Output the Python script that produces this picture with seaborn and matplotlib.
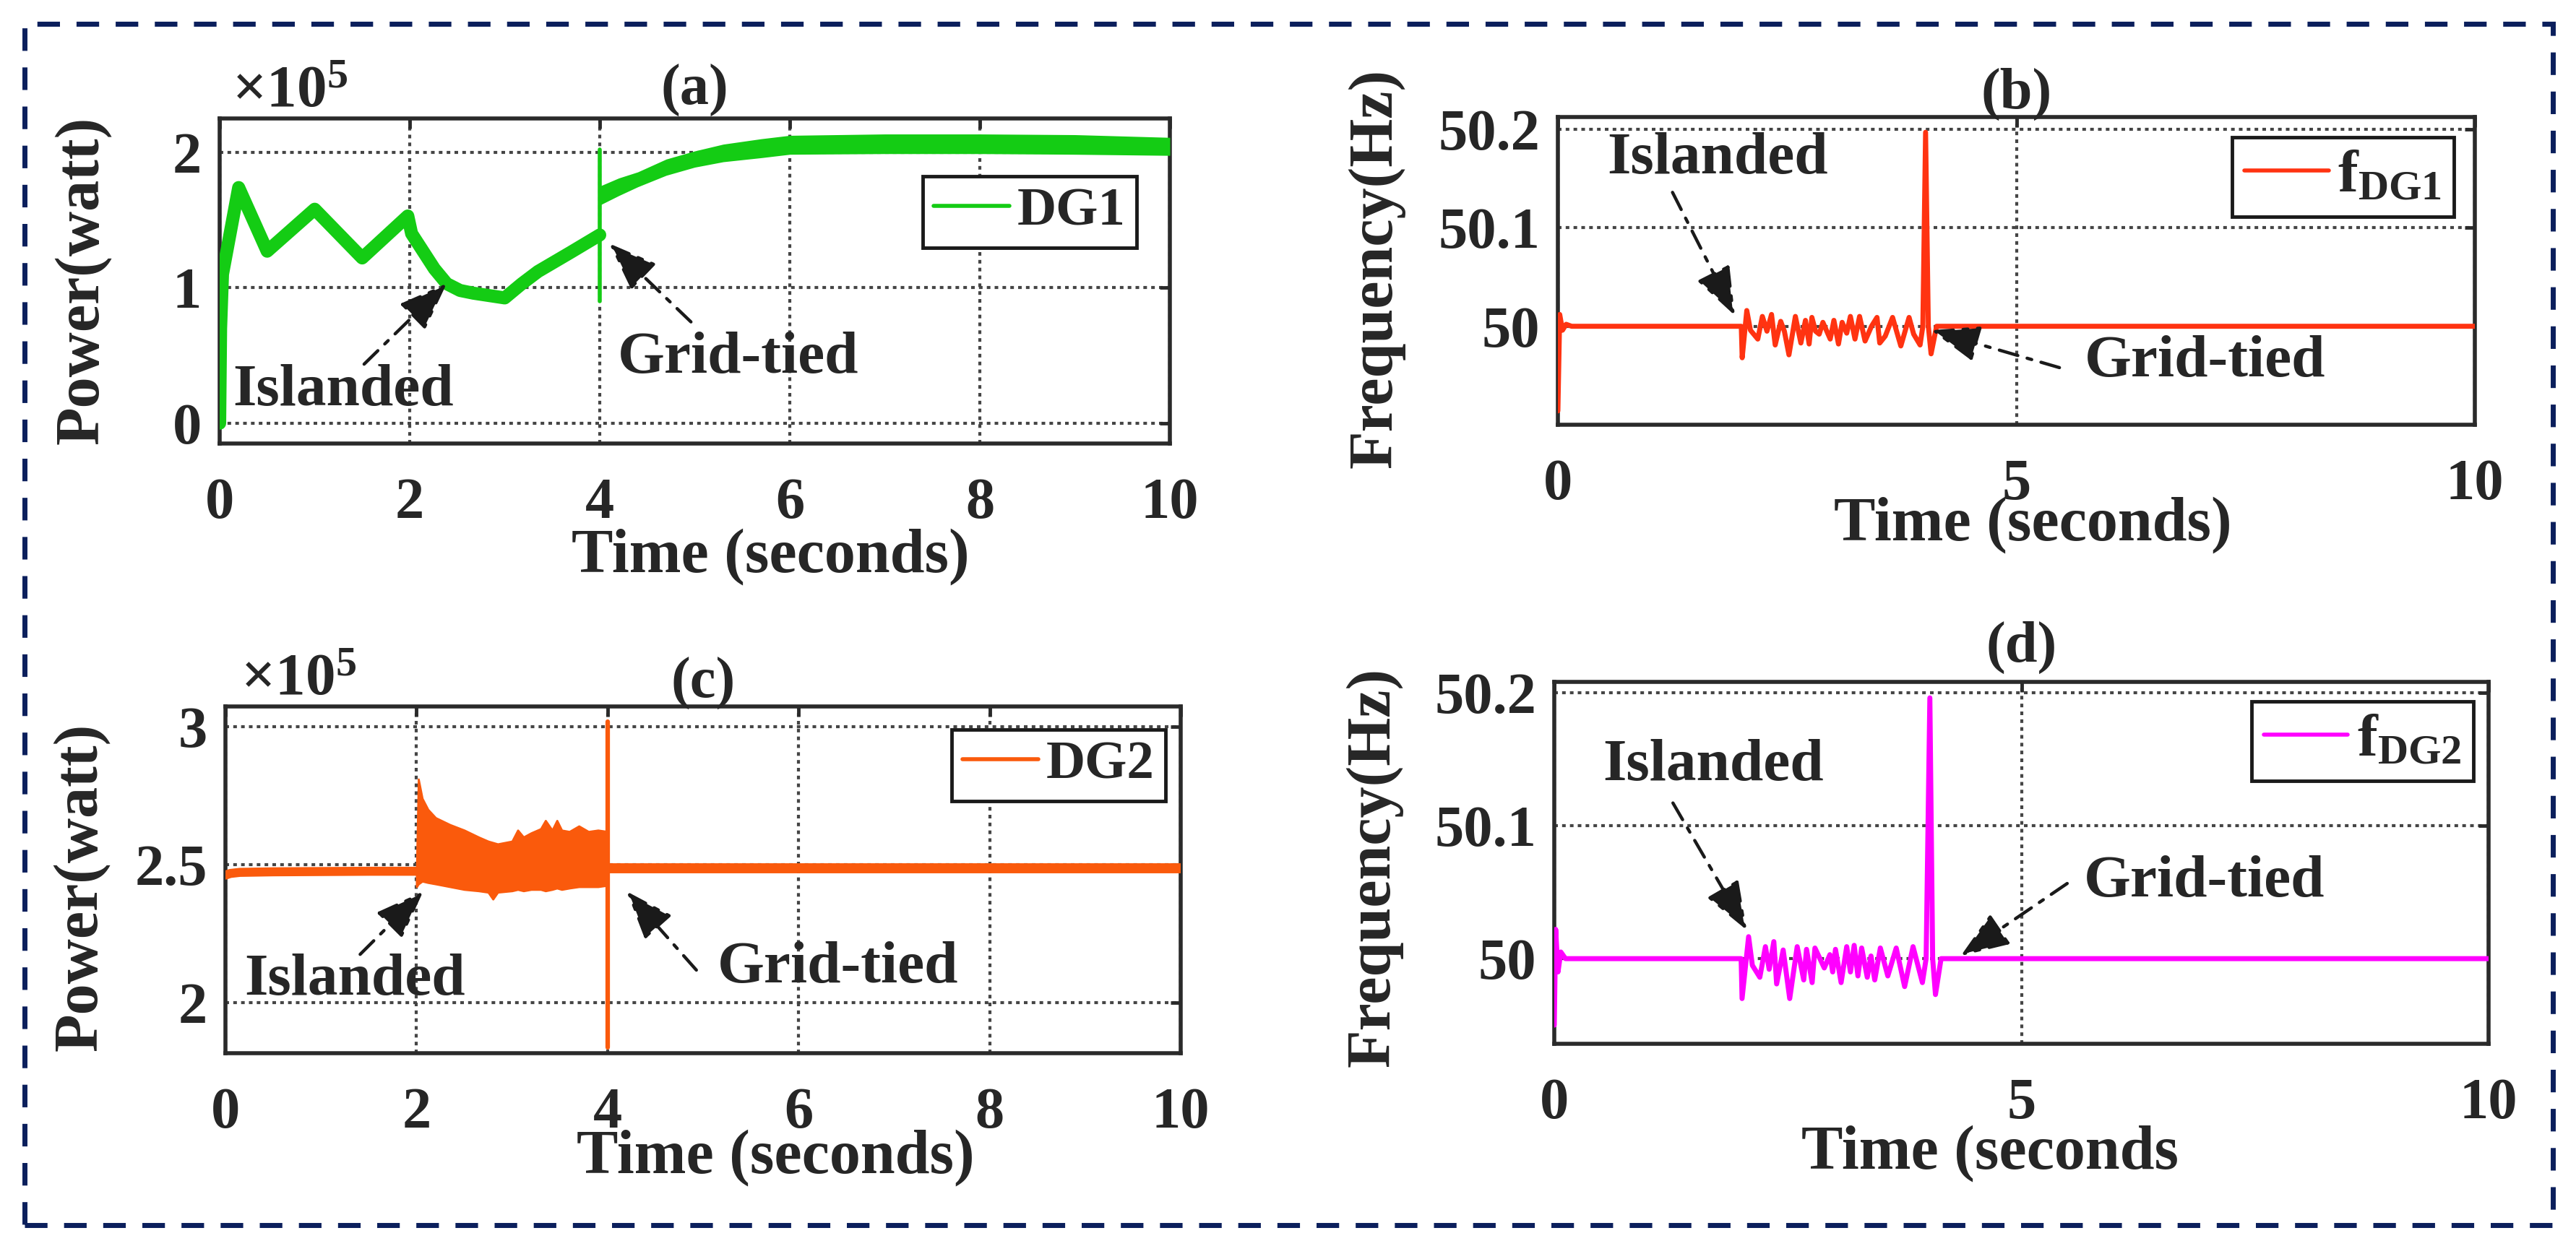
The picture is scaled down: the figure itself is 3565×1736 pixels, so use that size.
import matplotlib
matplotlib.use("Agg")
import matplotlib.pyplot as plt
from matplotlib.patches import Rectangle
import seaborn as sns

# ---- (a) DG1 power, units of 1e5 W ----
t_dg1 = [0.0, 0.01, 0.03, 0.2, 0.5, 1.0, 1.5, 1.98, 2.02, 2.26, 2.39, 2.53, 2.67, 3.0, 3.18, 3.35, 3.69, 4.0]
p_dg1 = [0.0, 0.7, 1.1, 1.74, 1.27, 1.58, 1.22, 1.53, 1.40, 1.14, 1.03, 0.98, 0.96, 0.925, 1.03, 1.12, 1.26, 1.39]
t_dg1_tied = [4.0, 4.2, 4.4, 4.7, 5.0, 5.3, 5.7, 6.0, 7.0, 8.0, 9.0, 10.0]
p_dg1_hi = [1.75, 1.81, 1.855, 1.95, 2.01, 2.06, 2.10, 2.125, 2.135, 2.135, 2.13, 2.11]
p_dg1_lo = [1.61, 1.68, 1.745, 1.83, 1.89, 1.93, 1.96, 1.985, 1.99, 1.99, 1.985, 1.977]
t_dg1_jump = [4.0, 4.0]
p_dg1_jump = [0.9, 2.02]

# ---- (b) DG1 frequency, Hz ----
t_fdg1 = [0.0, 0.02, 0.05, 0.09, 0.15, 2.0,
          2.01, 2.06, 2.10, 2.18, 2.23, 2.28, 2.33, 2.37, 2.43, 2.47, 2.52, 2.59, 2.65, 2.70,
          2.74, 2.77, 2.81, 2.85, 2.89, 2.97, 3.01, 3.06, 3.10, 3.15, 3.19, 3.24, 3.29, 3.35,
          3.42, 3.48, 3.51, 3.57, 3.65, 3.74, 3.83, 3.88, 3.95, 3.98, 4.01, 4.04, 4.07, 4.13, 10.0]
f_dg1 = [49.914, 50.012, 49.996, 50.002, 50.0, 50.0,
         49.968, 50.016, 49.996, 49.987, 50.010, 49.995, 50.012, 49.981, 50.005, 49.995, 49.971, 50.010, 49.983, 50.006,
         49.982, 50.009, 49.995, 49.992, 50.004, 49.987, 50.006, 49.982, 50.004, 49.993, 50.010, 49.987, 50.010, 49.985,
         50.0, 50.009, 49.983, 49.990, 50.009, 49.980, 50.009, 49.992, 49.981, 50.0, 50.197, 50.0, 49.972, 50.0, 50.0]

# ---- (c) DG2 power, units of 1e5 W ----
t_dg2_pre = [0.0, 0.05, 0.15, 0.5, 1.0, 1.5, 2.0]
p_dg2_pre = [2.462, 2.468, 2.472, 2.474, 2.475, 2.476, 2.476]
t_dg2_isl = [2.0, 2.02, 2.06, 2.12, 2.2, 2.35, 2.5, 2.65, 2.75, 2.8, 2.85, 3.0, 3.06, 3.12, 3.2,
             3.3, 3.35, 3.42, 3.47, 3.52, 3.6, 3.7, 3.8, 3.9, 4.0]
p_dg2_hi = [2.47, 2.81, 2.74, 2.70, 2.67, 2.645, 2.625, 2.60, 2.585, 2.58, 2.575, 2.585, 2.625, 2.60, 2.615,
            2.63, 2.66, 2.625, 2.66, 2.625, 2.62, 2.64, 2.62, 2.625, 2.62]
p_dg2_lo = [2.42, 2.43, 2.44, 2.435, 2.43, 2.42, 2.41, 2.405, 2.40, 2.375, 2.40, 2.405, 2.41, 2.405, 2.41,
            2.41, 2.405, 2.41, 2.415, 2.41, 2.415, 2.42, 2.42, 2.42, 2.425]
t_dg2_post = [4.0, 5.0, 6.0, 7.0, 8.0, 9.0, 10.0]
p_dg2_post = [2.487, 2.487, 2.487, 2.487, 2.487, 2.487, 2.487]
t_dg2_jump = [4.0, 4.0]
p_dg2_jump = [1.838, 3.017]

# ---- (d) DG2 frequency, Hz ----
t_fdg2 = [0.0, 0.015, 0.04, 0.07, 0.12, 2.0,
          2.01, 2.08, 2.12, 2.20, 2.26, 2.30, 2.35, 2.38, 2.45, 2.52, 2.60, 2.67, 2.70, 2.76,
          2.79, 2.89, 2.95, 2.98, 3.01, 3.07, 3.13, 3.17, 3.21, 3.25, 3.29, 3.35, 3.39, 3.43,
          3.49, 3.57, 3.66, 3.75, 3.84, 3.94, 3.98, 4.02, 4.05, 4.08, 4.14, 10.0]
f_dg2 = [49.95, 50.022, 49.99, 50.005, 50.0, 50.0,
         49.970, 50.0165, 49.995, 49.986, 50.009, 49.992, 50.0128, 49.981, 50.0065, 49.970, 50.009, 49.984, 50.007, 49.982,
         50.008, 49.993, 50.003, 49.990, 50.007, 49.982, 50.009, 49.990, 50.010, 49.987, 50.008, 49.986, 50.002, 49.984,
         50.008, 49.987, 50.008, 49.979, 50.009, 49.982, 50.0, 50.196, 50.0, 49.973, 50.0, 50.0]

GREEN = "#14cc14"
RED = "#ff3311"
ORANGE = "#fa5a0c"
MAGENTA = "#ff00ff"

W, H = 3565, 1736
sns.set_theme(style="white")
plt.rcParams["font.family"] = ["Liberation Serif", "DejaVu Serif"]
plt.rcParams["font.weight"] = "bold"
plt.rcParams["mathtext.fontset"] = "custom"
plt.rcParams["mathtext.rm"] = "Liberation Serif"
plt.rcParams["mathtext.bf"] = "Liberation Serif:bold"
plt.rcParams["mathtext.it"] = "Liberation Serif:italic"

fig = plt.figure(figsize=(W / 100, H / 100), dpi=100)
fig.patch.set_facecolor("white")


def add_ax(l, t, r, b):
    return fig.add_axes([l / W, 1 - b / H, (r - l) / W, (b - t) / H])


def style(ax, xticks, yticks, ylabels, ylim):
    ax.set_xlim(0, 10)
    ax.set_ylim(*ylim)
    ax.set_xticks(xticks, [str(v) for v in xticks])
    ax.set_yticks(yticks, ylabels)
    ax.set_axisbelow(True)
    ax.grid(True, color="#454545", linestyle=(0, (1.2, 1.4)), lw=3)
    ax.tick_params(direction="in", length=10, width=3.5, top=True, right=True,
                   labelsize=58, color="#2a2a2a")
    ax.tick_params(axis="x", pad=34)
    ax.tick_params(axis="y", pad=18)
    for sp in ax.spines.values():
        sp.set_visible(True)
        sp.set_linewidth(4)
        sp.set_color("#2a2a2a")


def labels(ax, title, tpad, ylabel, xlab_xy, ylab_xy, xlab="Time (seconds)"):
    ax.set_title(title, fontsize=58, fontweight="bold", pad=tpad)
    ax.set_xlabel(xlab, fontsize=62, fontweight="bold")
    ax.xaxis.label.set_va("center")
    ax.xaxis.set_label_coords(*xlab_xy)
    ax.set_ylabel(ylabel, fontsize=62, fontweight="bold")
    ax.yaxis.label.set_va("center")
    ax.yaxis.set_label_coords(*ylab_xy)


def note(ax, text, txy, tail, head):
    ax.text(txy[0], txy[1], text, fontsize=60, fontweight="bold", ha="left", va="baseline", zorder=6)
    ax.annotate("", xy=head, xytext=tail,
                arrowprops=dict(arrowstyle="-|>,head_length=0.8,head_width=0.3", color="k",
                                lw=3.2, linestyle=(0, (6, 3, 1.5, 3)), shrinkA=0, shrinkB=0,
                                mutation_scale=52), zorder=6)


def legend(ax, anchor, size=54):
    leg = ax.legend(loc="upper right", bbox_to_anchor=anchor, fontsize=size, frameon=True,
                    fancybox=False, edgecolor="k", framealpha=1, borderpad=0.2,
                    handlelength=1.4, handletextpad=0.15, borderaxespad=0)
    leg.get_frame().set_linewidth(3.5)
    for ln in leg.get_lines():
        ln.set_linewidth(4)


def times_ten(ax, x, y):
    ax.text(x, y, r"$\times\mathrm{10}^{\mathrm{5}}$", transform=ax.transAxes,
            fontsize=60, ha="left", va="baseline")


# (a)
ax = add_ax(304, 164, 1619, 614)
sns.lineplot(x=t_dg1, y=p_dg1, ax=ax, color=GREEN, lw=13, estimator=None, sort=False,
             label="DG1", zorder=3)
ax.fill_between(t_dg1_tied, p_dg1_lo, p_dg1_hi, color=GREEN, lw=0, zorder=3)
sns.lineplot(x=t_dg1_jump, y=p_dg1_jump, ax=ax, color=GREEN, lw=4, estimator=None, sort=False,
             zorder=3)
style(ax, [0, 2, 4, 6, 8, 10], [0, 1, 2], ["0", "1", "2"], (-0.15, 2.25))
labels(ax, "(a)", 14, "Power(watt)", (0.58, -0.349), (-0.144, 0.502))
legend(ax, (0.965, 0.822))
times_ten(ax, 0.013, 1.038)
note(ax, "Islanded", (0.14, 0.135), (1.52, 0.436), (2.39, 1.033))
note(ax, "Grid-tied", (4.19, 0.375), (4.96, 0.748), (4.10, 1.327))

# (b)
ax = add_ax(2156, 162, 3425, 588)
sns.lineplot(x=t_fdg1, y=f_dg1, ax=ax, color=RED, lw=5, estimator=None, sort=False,
             label=r"$\mathbf{f}_{\mathbf{DG1}}$", zorder=3)
style(ax, [0, 5, 10], [50, 50.1, 50.2], ["50", "50.1", "50.2"], (49.9, 50.2125))
labels(ax, "(b)", 9, "Frequency(Hz)", (0.518, -0.326), (-0.198, 0.509))
legend(ax, (0.977, 0.934), size=60)
note(ax, "Islanded", (0.536, 50.155), (1.25, 50.136), (1.93, 50.011))
note(ax, "Grid-tied", (5.74, 49.949), (5.47, 49.958), (4.07, 49.996))

# (c)
ax = add_ax(312, 978, 1634, 1458)
sns.lineplot(x=t_dg2_pre, y=p_dg2_pre, ax=ax, color=ORANGE, lw=9, estimator=None, sort=False,
             label="DG2", zorder=3)
ax.fill_between(t_dg2_isl, p_dg2_lo, p_dg2_hi, color=ORANGE, lw=2, edgecolor=ORANGE, zorder=3)
sns.lineplot(x=t_dg2_post, y=p_dg2_post, ax=ax, color=ORANGE, lw=10, estimator=None, sort=False,
             zorder=3)
sns.lineplot(x=t_dg2_jump, y=p_dg2_jump, ax=ax, color=ORANGE, lw=4.5, estimator=None, sort=False,
             zorder=3)
style(ax, [0, 2, 4, 6, 8, 10], [2, 2.5, 3], ["2", "2.5", "3"], (1.817, 3.073))
labels(ax, "(c)", 9, "Power(watt)", (0.576, -0.302), (-0.151, 0.479))
legend(ax, (0.984, 0.933))
times_ten(ax, 0.016, 1.036)
note(ax, "Islanded", (0.2, 2.03), (1.41, 2.175), (2.07, 2.403))
note(ax, "Grid-tied", (5.15, 2.073), (4.93, 2.118), (4.2, 2.403))

# (d)
ax = add_ax(2151, 944, 3444, 1445)
sns.lineplot(x=t_fdg2, y=f_dg2, ax=ax, color=MAGENTA, lw=5, estimator=None, sort=False,
             label=r"$\mathbf{f}_{\mathbf{DG2}}$", zorder=3)
style(ax, [0, 5, 10], [50, 50.1, 50.2], ["50", "50.1", "50.2"], (49.936, 50.208))
labels(ax, "(d)", 20, "Frequency(Hz)", (0.466, -0.303), (-0.193, 0.489), xlab="Time (seconds")
legend(ax, (0.984, 0.946), size=60)
note(ax, "Islanded", (0.52, 50.134), (1.27, 50.117), (2.06, 50.0215))
note(ax, "Grid-tied", (5.67, 50.047), (5.49, 50.0565), (4.35, 50.002))

# dashed outer frame
fig.patches.append(Rectangle((34 / W, 1 - 1696 / H), (3533 - 34) / W, (1696 - 33) / H,
                             transform=fig.transFigure, fill=False, edgecolor="#0b1f5c",
                             lw=5, linestyle=(0, (4.5, 3.3))))

fig.savefig("out.png", dpi=100)
